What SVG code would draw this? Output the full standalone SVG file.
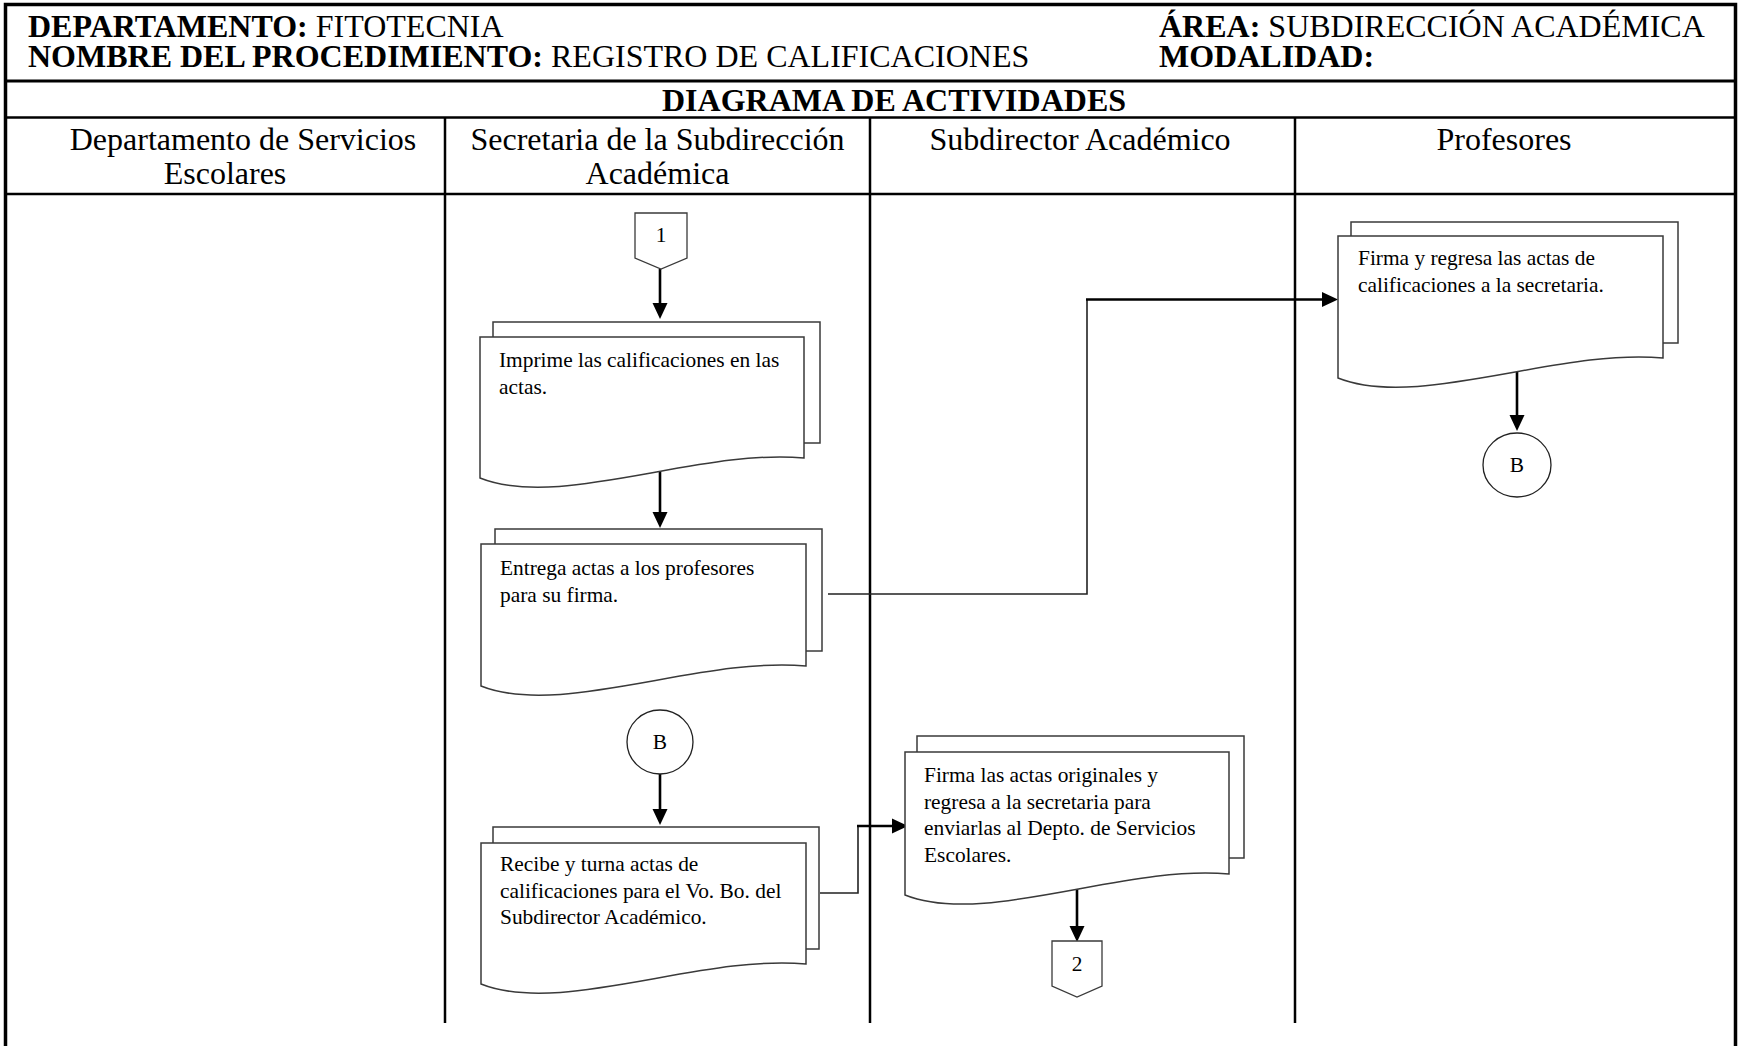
<svg xmlns="http://www.w3.org/2000/svg" width="1739" height="1046" viewBox="0 0 1739 1046">
<defs>
<style>
.t{font-family:"Liberation Serif","Times New Roman",serif;fill:#000}
.h{font-size:32px}
.b{font-weight:bold}
.body{font-size:21.4px}
.frame{stroke:#000;stroke-width:3.5;fill:none}
.rule{stroke:#000;stroke-width:2.5;fill:none}
.doc{fill:#fff;stroke:#3a3a3a;stroke-width:1.5}
.conn{fill:#fff;stroke:#3a3a3a;stroke-width:1.3}
.thin{fill:none;stroke:#222;stroke-width:1.6}
.thick{fill:none;stroke:#000;stroke-width:2.6}
</style>
<marker id="ah" markerUnits="userSpaceOnUse" markerWidth="16" markerHeight="16" viewBox="0 0 16 16" refX="5" refY="8" orient="auto">
<path d="M0,0.5 L16,8 L0,15.5 Z" fill="#000"/>
</marker>
</defs>
<rect width="1739" height="1046" fill="#fff"/>
<g id="frame">
<path class="frame" d="M5.5,1046 V4.5 H1735.5 V1046"/>
<line class="rule" x1="5" y1="81" x2="1736" y2="81" style="stroke-width:3"/>
<line class="rule" x1="5" y1="117.5" x2="1736" y2="117.5"/>
<line class="rule" x1="5" y1="194" x2="1736" y2="194"/>
<line class="rule" x1="445" y1="117.5" x2="445" y2="1023"/>
<line class="rule" x1="870" y1="117.5" x2="870" y2="1023"/>
<line class="rule" x1="1295" y1="117.5" x2="1295" y2="1023"/>
</g>
<g id="header">
<text class="t h" x="28" y="36.5"><tspan class="b">DEPARTAMENTO:</tspan> FITOTECNIA</text>
<text class="t h" x="1159" y="36.5"><tspan class="b">ÁREA:</tspan> SUBDIRECCIÓN ACADÉMICA</text>
<text class="t h" x="28" y="66.5"><tspan class="b">NOMBRE DEL PROCEDIMIENTO:</tspan> REGISTRO DE CALIFICACIONES</text>
<text class="t h b" x="1159" y="66.5">MODALIDAD:</text>
<text class="t h b" x="894" y="111" text-anchor="middle">DIAGRAMA DE ACTIVIDADES</text>
</g>
<g id="lanes">
<text class="t h" x="243" y="150" text-anchor="middle">Departamento de Servicios</text>
<text class="t h" x="225" y="184" text-anchor="middle">Escolares</text>
<text class="t h" x="657.5" y="150" text-anchor="middle">Secretaria de la Subdirección</text>
<text class="t h" x="657.5" y="184" text-anchor="middle">Académica</text>
<text class="t h" x="1080" y="150" text-anchor="middle">Subdirector Académico</text>
<text class="t h" x="1504" y="150" text-anchor="middle">Profesores</text>
</g>
<g id="connectors">
<line class="thick" x1="660" y1="269" x2="660" y2="308" marker-end="url(#ah)"/>
<line class="thick" x1="660" y1="470" x2="660" y2="517" marker-end="url(#ah)"/>
<path class="thin" d="M828,594 H1087 V299.5"/>
<line class="thick" x1="1086" y1="299.5" x2="1327" y2="299.5" marker-end="url(#ah)"/>
<line class="thick" x1="1517" y1="370" x2="1517" y2="420" marker-end="url(#ah)"/>
<line class="thick" x1="660" y1="774" x2="660" y2="814" marker-end="url(#ah)"/>
<path class="thin" d="M820,893 H858 V826"/>
<line class="thick" x1="857" y1="826" x2="897" y2="826" marker-end="url(#ah)"/>
<line class="thick" x1="1077" y1="885" x2="1077" y2="931" marker-end="url(#ah)"/>
</g>
<g id="node-c1">
<path class="conn" d="M635,213 H687 V258 L661,269 L635,258 Z"/>
<text class="t body" x="661" y="242" text-anchor="middle">1</text>
</g>
<g id="node-imprime">
<rect class="doc" x="493" y="322" width="327" height="121"/>
<path class="doc" d="M480,337 H804 V458 C700,448 560,510 480,478 Z"/>
<text class="t body" x="499" y="367">Imprime las calificaciones en las</text>
<text class="t body" x="499" y="393.5">actas.</text>
</g>
<g id="node-entrega">
<rect class="doc" x="495" y="529" width="327" height="122"/>
<path class="doc" d="M481,544 H806 V666 C702,656 561,718 481,686 Z"/>
<text class="t body" x="500" y="575">Entrega actas a los profesores</text>
<text class="t body" x="500" y="601.5">para su firma.</text>
</g>
<g id="node-b-left">
<ellipse cx="660" cy="742" rx="33" ry="32" fill="#fff" stroke="#222" stroke-width="1.3"/>
<text class="t body" x="660" y="749" text-anchor="middle">B</text>
</g>
<g id="node-recibe">
<rect class="doc" x="493" y="827" width="326" height="122"/>
<path class="doc" d="M481,843 H806 V964 C702,954 561,1016 481,984 Z"/>
<text class="t body" x="500" y="871">Recibe y turna actas de</text>
<text class="t body" x="500" y="897.5">calificaciones para el Vo. Bo. del</text>
<text class="t body" x="500" y="924">Subdirector Académico.</text>
</g>
<g id="node-firma-sub">
<rect class="doc" x="917" y="736" width="327" height="122"/>
<path class="doc" d="M905,752 H1229 V874 C1125,864 985,927 905,895 Z"/>
<text class="t body" x="924" y="782">Firma las actas originales y</text>
<text class="t body" x="924" y="808.5">regresa a la secretaria para</text>
<text class="t body" x="924" y="835">enviarlas al Depto. de Servicios</text>
<text class="t body" x="924" y="861.5">Escolares.</text>
</g>
<g id="node-c2">
<path class="conn" d="M1052,941 H1102 V986 L1077,997 L1052,986 Z"/>
<text class="t body" x="1077" y="971" text-anchor="middle">2</text>
</g>
<g id="node-firma-prof">
<rect class="doc" x="1351" y="222" width="327" height="121"/>
<path class="doc" d="M1338,236 H1663 V358 C1559,348 1418,410 1338,378 Z"/>
<text class="t body" x="1358" y="265">Firma y regresa las actas de</text>
<text class="t body" x="1358" y="291.5">calificaciones a la secretaria.</text>
</g>
<g id="node-b-right">
<ellipse cx="1517" cy="465" rx="34" ry="32" fill="#fff" stroke="#222" stroke-width="1.3"/>
<text class="t body" x="1517" y="472" text-anchor="middle">B</text>
</g>
</svg>
